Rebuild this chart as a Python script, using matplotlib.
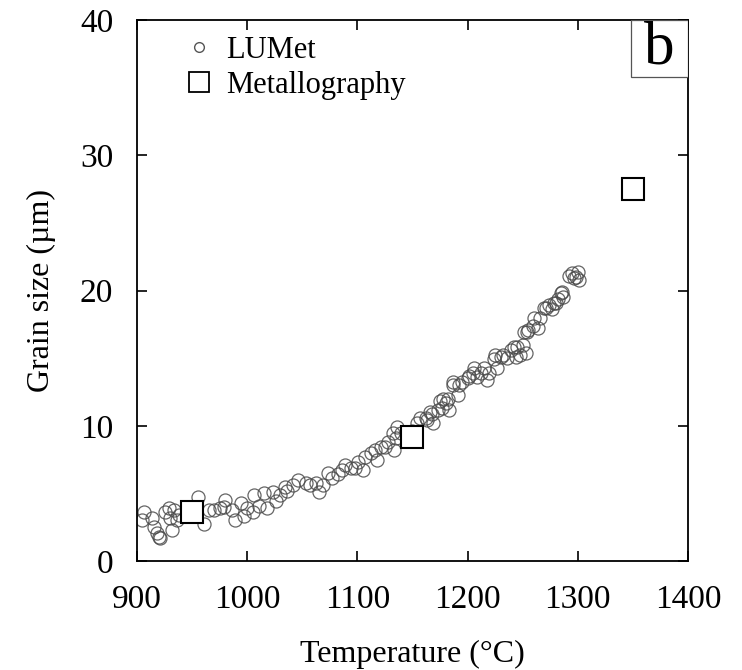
import numpy as np
import matplotlib
matplotlib.use('Agg')
from matplotlib import pyplot as plt
from matplotlib.lines import Line2D
from matplotlib.patches import Rectangle

# LUMet measurements (temperature in C, grain size in um)
lumet_temp = [905, 906, 914, 915, 918, 920, 921, 925, 929, 930, 932, 934, 936, 938,
              945, 950, 955, 961, 965, 970, 975, 979, 980, 986, 989, 994, 997, 1000,
              1005, 1006, 1011, 1015, 1018, 1023, 1026, 1030, 1034, 1036, 1042, 1046,
              1053, 1057, 1062, 1065, 1069, 1073, 1077, 1082, 1086, 1089, 1094, 1098,
              1101, 1105, 1107, 1112, 1116, 1118, 1121, 1125, 1128, 1132, 1133, 1135,
              1136, 1140, 1145, 1150, 1154, 1157, 1162, 1163, 1166, 1168, 1169, 1173,
              1175, 1177, 1178, 1180, 1182, 1183, 1187, 1187, 1191, 1192, 1195, 1200,
              1201, 1205, 1206, 1209, 1212, 1215, 1218, 1219, 1224, 1225, 1227, 1230,
              1232, 1236, 1239, 1242, 1244, 1245, 1248, 1250, 1251, 1253, 1254, 1255,
              1259, 1260, 1264, 1266, 1269, 1271, 1274, 1277, 1278, 1280, 1282, 1285,
              1286, 1287, 1292, 1295, 1297, 1298, 1300, 1301]
lumet_size = [3.0, 3.6, 3.2, 2.5, 2.1, 1.8, 1.7, 3.6, 3.9, 3.2, 2.3, 3.8, 3.0, 3.4,
              3.6, 3.9, 4.7, 2.7, 3.8, 3.8, 3.9, 4.0, 4.5, 3.8, 3.0, 4.3, 3.3, 3.9,
              3.6, 4.9, 4.1, 5.0, 3.9, 5.1, 4.4, 4.9, 5.5, 5.2, 5.6, 6.0,
              5.8, 5.6, 5.8, 5.1, 5.6, 6.5, 6.1, 6.4, 6.7, 7.1, 6.9, 6.9,
              7.3, 6.7, 7.7, 8.0, 8.2, 7.5, 8.4, 8.4, 8.8, 9.5, 8.2, 9.1,
              9.9, 9.5, 9.3, 9.6, 10.2, 10.6, 10.6, 10.4, 11.0, 10.9, 10.2, 11.2,
              11.8, 11.3, 12.0, 11.7, 12.0, 11.2, 13.2, 13.0, 12.3, 13.0, 13.2, 13.5,
              13.7, 13.9, 14.3, 13.6, 13.9, 14.3, 13.4, 13.9, 14.9, 15.2, 14.3, 15.1,
              15.2, 15.0, 15.6, 15.8, 15.1, 15.8, 15.2, 16.0, 16.9, 15.4, 16.9, 17.1,
              17.4, 18.0, 17.2, 18.0, 18.7, 18.7, 18.9, 18.6, 19.1, 19.1, 19.4, 19.8,
              19.9, 19.5, 21.1, 21.3, 20.9, 21.0, 21.4, 20.8]

# Metallography measurements
metal_temp = [950, 1150, 1350]
metal_size = [3.6, 9.2, 27.5]

plt.rcParams['font.family'] = ['Liberation Serif', 'DejaVu Serif']

fig = plt.figure(figsize=(7.42, 6.70), dpi=100)
ax = fig.add_axes([0.1846, 0.1627, 0.7426, 0.8074])

ax.plot(lumet_temp, lumet_size, linestyle='none', marker='o', markersize=9.4,
        markerfacecolor='none', markeredgecolor='#4a4a4a', markeredgewidth=0.9, alpha=0.85)
ax.plot(metal_temp, metal_size, linestyle='none', marker='s', markersize=16.5,
        markerfacecolor='white', markeredgecolor='black', markeredgewidth=1.5, zorder=5)

ax.set_xlim(900, 1400)
ax.set_ylim(0, 40)
ax.set_xticks([900, 1000, 1100, 1200, 1300, 1400])
ax.set_yticks([0, 10, 20, 30, 40])
ax.tick_params(direction='in', length=7, width=1.2, top=True, right=True,
               labelsize=24, pad=17)
for s in ax.spines.values():
    s.set_linewidth(1.3)

ax.set_xlabel('Temperature (°C)', fontsize=23, labelpad=18)
ax.set_ylabel('Grain size (µm)', fontsize=23, labelpad=17)

handles = [
    Line2D([], [], linestyle='none', marker='o', markersize=7, markerfacecolor='none',
           markeredgecolor='#555555', markeredgewidth=1.0),
    Line2D([], [], linestyle='none', marker='s', markersize=15, markerfacecolor='white',
           markeredgecolor='black', markeredgewidth=1.3),
]
ax.legend(handles, ['LUMet', 'Metallography'], loc='upper left', frameon=False,
          fontsize=22, bbox_to_anchor=(0.04, 1.01), handletextpad=0.3,
          labelspacing=0.2, handlelength=1.2, borderpad=0.2)

ax.add_patch(Rectangle((0.8966, 0.8946), 0.1034, 0.1054, transform=ax.transAxes,
                       facecolor='white', edgecolor='#555555', linewidth=0.9, zorder=6))
ax.text(0.9483, 0.947, 'b', transform=ax.transAxes, ha='center', va='center',
        fontsize=44, zorder=7)

fig.savefig('out.png', dpi=100)
